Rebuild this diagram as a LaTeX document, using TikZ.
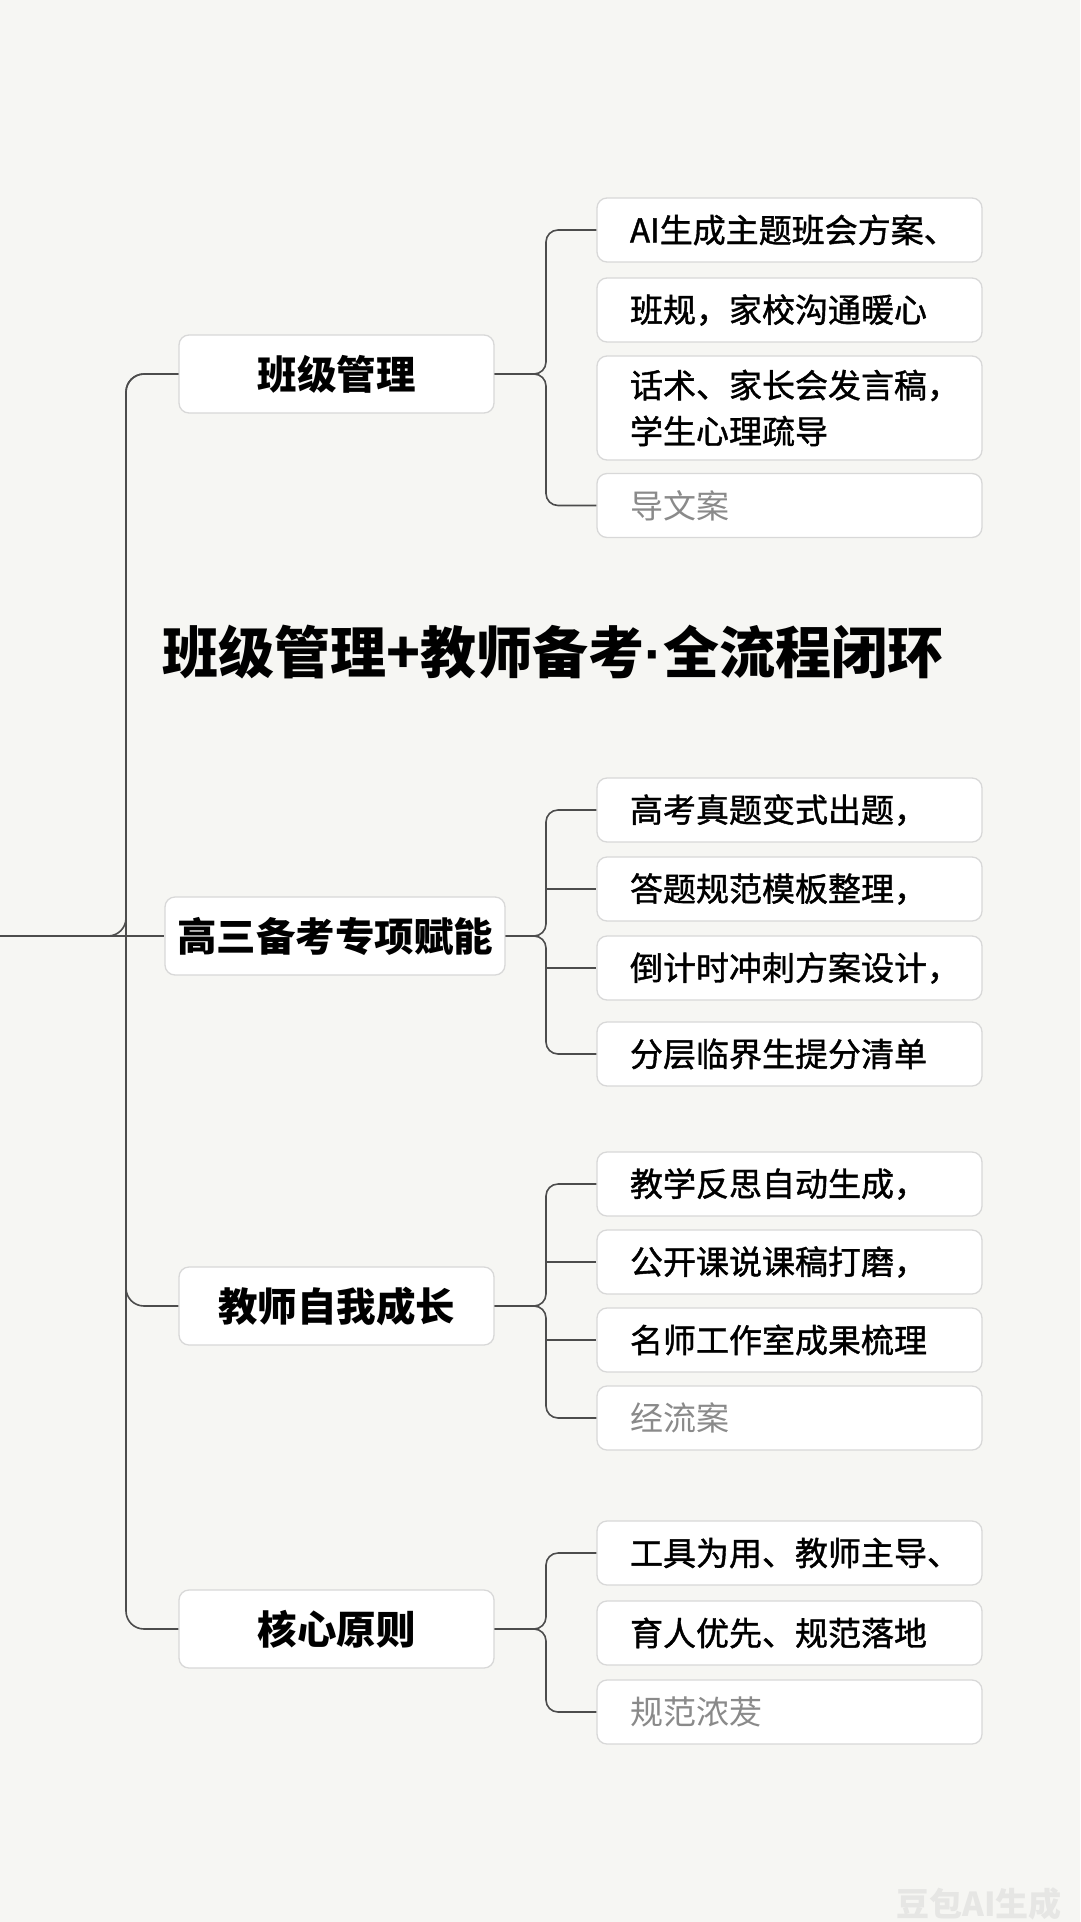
\documentclass[tikz,border=0pt]{standalone}
\usepackage{fontspec}
\setmainfont{Noto Sans CJK SC}
\newfontfamily\leaffont{Noto Sans CJK SC}[FakeBold=1.2]
\newfontfamily\latinfont{Liberation Sans}
\usetikzlibrary{calc}
\definecolor{bgcol}{HTML}{F6F6F3}
\definecolor{boxline}{HTML}{D8D8D8}
\definecolor{conncol}{HTML}{4C4C4C}
\definecolor{dimtext}{HTML}{8A8A8A}
\definecolor{wmcol}{HTML}{E6E6E4}
\newcommand\leafpad{\hspace*{33pt}}
\begin{document}
\begin{tikzpicture}[x=1pt,y=-1pt,
  conn/.style={draw=conncol, line width=1.6pt},
  trunkconn/.style={conn, rounded corners=18pt},
  branchconn/.style={conn, rounded corners=12pt},
  mainbox/.style={draw=boxline, fill=white, line width=1.3pt, rounded corners=10pt,
    minimum width=315pt, minimum height=78pt, inner sep=0pt,
    font=\fontsize{39.5}{46}\selectfont\bfseries},
  leaf/.style={draw=boxline, fill=white, line width=1.3pt, rounded corners=10pt,
    text width=385pt, inner xsep=0pt, inner ysep=0pt, minimum height=64pt, align=left,
    font=\fontsize{33}{46}\selectfont\leaffont},
  dim/.style={text=dimtext, font=\fontsize{33}{46}\selectfont\rmfamily},
  titlestyle/.style={inner sep=0pt, font=\fontsize{56}{60}\selectfont\bfseries},
  wmstyle/.style={inner sep=0pt, text=wmcol, font=\fontsize{33}{35}\selectfont\bfseries}]

\fill[bgcol] (0,0) rectangle (1080,1922);
\useasboundingbox (0,0) rectangle (1080,1922);

% title
\node[titlestyle] (title) at (553,652) {班级管理+教师备考{\latinfont\bfseries ·}全流程闭环};

% main boxes
\node[mainbox] (m1) at (336.5,374) {班级管理};
\node[mainbox, minimum width=340pt] (m2) at (335,936) {高三备考专项赋能};
\node[mainbox] (m3) at (336.5,1306) {教师自我成长};
\node[mainbox] (m4) at (336.5,1629) {核心原则};

% leaves group 1
\node[leaf] (l11) at (789.5,230) {\leafpad AI生成主题班会方案、};
\node[leaf] (l12) at (789.5,310) {\leafpad 班规，家校沟通暖心};
\node[leaf, minimum height=104pt] (l13) at (789.5,408) {\leafpad 话术、家长会发言稿，\\\leafpad 学生心理疏导};
\node[leaf, dim] (l14) at (789.5,505.5) {\leafpad 导文案};

% leaves group 2
\node[leaf] (l21) at (789.5,810) {\leafpad 高考真题变式出题，};
\node[leaf] (l22) at (789.5,889) {\leafpad 答题规范模板整理，};
\node[leaf] (l23) at (789.5,968) {\leafpad 倒计时冲刺方案设计，};
\node[leaf] (l24) at (789.5,1054) {\leafpad 分层临界生提分清单};

% leaves group 3
\node[leaf] (l31) at (789.5,1184) {\leafpad 教学反思自动生成，};
\node[leaf] (l32) at (789.5,1262) {\leafpad 公开课说课稿打磨，};
\node[leaf] (l33) at (789.5,1340) {\leafpad 名师工作室成果梳理};
\node[leaf, dim] (l34) at (789.5,1418) {\leafpad 经流案};

% leaves group 4
\node[leaf] (l41) at (789.5,1553) {\leafpad 工具为用、教师主导、};
\node[leaf] (l42) at (789.5,1633) {\leafpad 育人优先、规范落地};
\node[leaf, dim] (l43) at (789.5,1712) {\leafpad 规范浓茇};

% watermark
\node[wmstyle, anchor=east] (wm) at (1062,1904) {豆包AI生成};

% trunk
\coordinate (root) at (0,936);
\coordinate (ttop) at (126,374);
\coordinate (tbot) at (126,1629);
\coordinate (tmid) at (126,1240);
\coordinate (J) at (546,0);

\draw[conn] (root) -- (m2.west);
\draw[trunkconn] (root) -| (ttop) -- (m1.west);
\draw[trunkconn] (m1.west) -| (tbot) -- (m4.west);
\draw[trunkconn] (tmid) |- (m3.west);

% group 1 connectors
\draw[branchconn] (m1.east) -| (l11.west -| J) -- (l11.west);
\draw[branchconn] (m1.east) -| (l14.west -| J) -- (l14.west);

% group 2 connectors
\draw[branchconn] (m2.east) -| (l21.west -| J) -- (l21.west);
\draw[branchconn] (m2.east) -| (l24.west -| J) -- (l24.west);
\draw[conn] (l22.west -| J) -- (l22.west);
\draw[conn] (l23.west -| J) -- (l23.west);

% group 3 connectors
\draw[branchconn] (m3.east) -| (l31.west -| J) -- (l31.west);
\draw[branchconn] (m3.east) -| (l34.west -| J) -- (l34.west);
\draw[conn] (l32.west -| J) -- (l32.west);
\draw[conn] (l33.west -| J) -- (l33.west);

% group 4 connectors
\draw[branchconn] (m4.east) -| (l41.west -| J) -- (l41.west);
\draw[branchconn] (m4.east) -| (l43.west -| J) -- (l43.west);

\end{tikzpicture}
\end{document}
